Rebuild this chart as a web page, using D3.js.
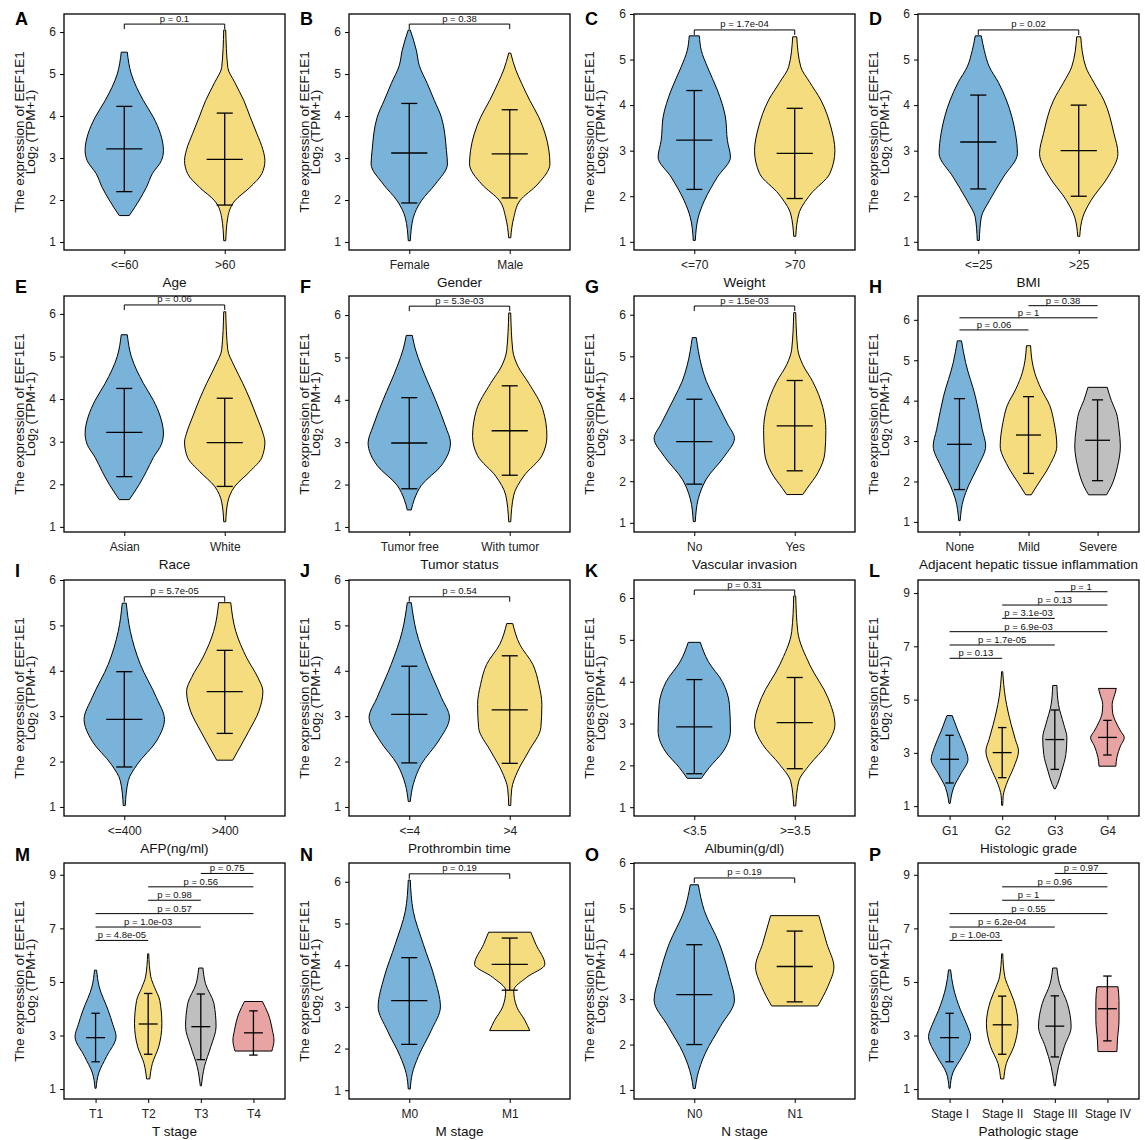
<!DOCTYPE html>
<html>
<head>
<meta charset="utf-8">
<script src="https://cdn.jsdelivr.net/npm/d3@7"></script>
<style>
  body { margin: 0; background: #fff; }
  text { font-family: "Liberation Sans", Arial, sans-serif; }
</style>
</head>
<body>
<svg id="chart" width="1145" height="1140"></svg>
<script>
// Data =====================================================

const panelLetters = ["A","B","C","D","E","F","G","H","I","J","K","L","M","N","O","P"];

const xTitles = ["Age","Gender","Weight","BMI","Race","Tumor status","Vascular invasion",
  "Adjacent hepatic tissue inflammation","AFP(ng/ml)","Prothrombin time","Albumin(g/dl)",
  "Histologic grade","T stage","M stage","N stage","Pathologic stage"];

const groupNames = [
  ["<=60",">60"], ["Female","Male"], ["<=70",">70"], ["<=25",">25"],
  ["Asian","White"], ["Tumor free","With tumor"], ["No","Yes"], ["None","Mild","Severe"],
  ["<=400",">400"], ["<=4",">4"], ["<3.5",">=3.5"], ["G1","G2","G3","G4"],
  ["T1","T2","T3","T4"], ["M0","M1"], ["N0","N1"], ["Stage I","Stage II","Stage III","Stage IV"]
];

// visible y range of each panel [bottom, top]
const yDomains = [[0.81,6.43],[0.81,6.43],[0.82,6.0],[0.82,6.0],
  [0.88,6.42],[0.88,6.45],[0.78,6.45],[0.75,6.59],
  [0.80,6.0],[0.80,6.0],[0.79,6.43],[0.63,9.49],
  [0.63,9.44],[0.79,6.45],[0.80,6.0],[0.63,9.44]];

const yTicksSix = [1,2,3,4,5,6];
const yTicksNine = [1,3,5,7,9];

// violin outlines: [value, half width in group units]
const profA = [
  [[1.63,0.05],[2.0,0.15],[2.3,0.22],[2.63,0.28],[2.94,0.37],[3.18,0.39],[3.58,0.36],[3.97,0.29],[4.37,0.19],[5.0,0.07],[5.52,0.03]],
  [[1.03,0.01],[1.58,0.03],[1.98,0.1],[2.3,0.25],[2.63,0.37],[2.94,0.40],[3.2,0.38],[3.58,0.32],[4.0,0.25],[4.37,0.19],[4.8,0.1],[5.16,0.03],[6.05,0.01]]
];
const profB = [
  [[1.03,0.01],[1.58,0.04],[1.98,0.12],[2.38,0.26],[2.86,0.38],[3.18,0.37],[3.97,0.32],[4.37,0.25],[4.77,0.18],[5.2,0.1],[5.57,0.07],[6.05,0.01]],
  [[1.1,0.01],[1.58,0.04],[1.98,0.1],[2.38,0.28],[2.86,0.40],[3.18,0.39],[3.97,0.29],[4.37,0.2],[4.77,0.12],[5.1,0.06],[5.5,0.01]]
];
const profC = [
  [[1.03,0.01],[1.54,0.04],[1.9,0.1],[2.42,0.23],[2.86,0.36],[3.22,0.33],[3.74,0.31],[4.33,0.23],[4.84,0.13],[5.2,0.07],[5.52,0.05]],
  [[1.12,0.01],[1.61,0.04],[2.05,0.16],[2.5,0.35],[3.0,0.40],[3.52,0.36],[4.11,0.26],[4.5,0.15],[4.84,0.06],[5.5,0.02]]
];
const profD = [
  [[1.03,0.01],[1.54,0.03],[1.9,0.11],[2.42,0.25],[2.94,0.39],[3.38,0.37],[4.11,0.28],[4.5,0.2],[4.84,0.11],[5.2,0.06],[5.52,0.03]],
  [[1.12,0.01],[1.54,0.04],[1.9,0.12],[2.42,0.29],[2.94,0.39],[3.38,0.35],[4.11,0.25],[4.5,0.15],[4.84,0.07],[5.5,0.02]]
];
const profE = [
  [[1.64,0.05],[2.0,0.15],[2.3,0.22],[2.63,0.29],[2.94,0.37],[3.2,0.39],[3.58,0.36],[3.97,0.29],[4.37,0.19],[5.0,0.07],[5.51,0.03]],
  [[1.12,0.01],[1.58,0.03],[1.95,0.1],[2.3,0.25],[2.63,0.37],[2.99,0.40],[3.2,0.38],[3.58,0.32],[4.0,0.25],[4.37,0.18],[4.8,0.09],[5.16,0.03],[6.05,0.01]]
];
const profF = [
  [[1.4,0.02],[1.65,0.05],[1.98,0.12],[2.45,0.32],[2.98,0.41],[3.38,0.36],[4.0,0.26],[4.79,0.12],[5.2,0.06],[5.52,0.03]],
  [[1.12,0.01],[1.75,0.04],[2.2,0.14],[2.68,0.32],[3.14,0.37],[3.77,0.33],[4.39,0.19],[4.8,0.08],[5.17,0.03],[6.05,0.01]]
];
const profG = [
  [[1.03,0.01],[1.58,0.04],[2.05,0.12],[2.6,0.3],[3.03,0.40],[3.38,0.33],[4.0,0.2],[4.4,0.12],[4.79,0.07],[5.45,0.02]],
  [[1.68,0.08],[1.82,0.12],[2.2,0.23],[2.68,0.30],[3.22,0.31],[3.77,0.28],[4.39,0.18],[4.8,0.08],[5.17,0.03],[6.05,0.01]]
];
const profH = [
  [[1.03,0.01],[1.57,0.06],[1.89,0.13],[2.38,0.27],[2.88,0.38],[3.29,0.33],[4.11,0.23],[4.94,0.09],[5.48,0.03]],
  [[1.67,0.04],[1.89,0.12],[2.38,0.30],[2.88,0.41],[3.46,0.37],[3.87,0.31],[4.3,0.18],[4.69,0.09],[5.0,0.05],[5.36,0.03]],
  [[1.67,0.13],[1.89,0.2],[2.38,0.29],[2.88,0.33],[3.3,0.31],[3.71,0.27],[4.0,0.2],[4.33,0.14]]
];
const profI = [
  [[1.03,0.01],[1.58,0.04],[1.94,0.13],[2.45,0.32],[2.93,0.40],[3.41,0.32],[4.14,0.16],[4.87,0.06],[5.49,0.02]],
  [[2.03,0.08],[2.23,0.13],[2.67,0.24],[3.11,0.34],[3.55,0.38],[3.85,0.33],[4.28,0.22],[4.87,0.11],[5.5,0.06]]
];
const profJ = [
  [[1.12,0.01],[1.5,0.04],[1.94,0.12],[2.45,0.29],[2.97,0.40],[3.41,0.32],[4.14,0.18],[4.87,0.07],[5.5,0.02]],
  [[1.03,0.01],[1.4,0.02],[1.79,0.08],[2.23,0.19],[2.75,0.31],[3.26,0.32],[3.7,0.29],[4.14,0.23],[4.58,0.1],[5.04,0.03]]
];
const profK = [
  [[1.69,0.07],[1.95,0.15],[2.34,0.29],[2.82,0.36],[3.45,0.35],[4.0,0.28],[4.48,0.14],[4.94,0.06]],
  [[1.03,0.01],[1.62,0.04],[2.02,0.15],[2.5,0.32],[2.98,0.40],[3.62,0.33],[4.4,0.15],[5.2,0.03],[6.05,0.01]]
];
const profL = [
  [[1.1,0.01],[1.34,0.03],[1.71,0.08],[2.2,0.21],[2.76,0.35],[3.2,0.29],[3.82,0.16],[4.4,0.05]],
  [[1.03,0.01],[1.4,0.02],[1.82,0.08],[2.46,0.22],[3.07,0.31],[3.5,0.25],[4.07,0.17],[5.07,0.06],[6.05,0.01]],
  [[1.65,0.01],[1.82,0.05],[2.32,0.13],[2.94,0.21],[3.57,0.23],[4.07,0.17],[4.81,0.07],[5.53,0.04]],
  [[2.5,0.16],[2.83,0.18],[3.27,0.25],[3.57,0.32],[3.82,0.25],[4.2,0.15],[4.5,0.1],[4.81,0.09],[5.2,0.14],[5.42,0.17]]
];
const profM = [
  [[1.03,0.01],[1.6,0.06],[2.22,0.21],[2.96,0.39],[3.4,0.33],[3.94,0.24],[4.81,0.07],[5.44,0.02]],
  [[1.38,0.03],[1.96,0.08],[2.58,0.2],[3.44,0.26],[4.31,0.22],[4.8,0.12],[5.19,0.05],[6.05,0.01]],
  [[1.12,0.01],[1.85,0.07],[2.58,0.19],[3.33,0.29],[4.19,0.25],[4.93,0.09],[5.52,0.04]],
  [[2.42,0.35],[2.83,0.39],[3.2,0.36],[3.81,0.28],[4.27,0.17]]
];
const profN = [
  [[1.03,0.01],[1.4,0.03],[1.81,0.09],[2.44,0.22],[3.0,0.31],[3.71,0.25],[4.5,0.14],[5.29,0.04],[6.04,0.01]],
  [[2.43,0.2],[2.68,0.15],[3.0,0.07],[3.39,0.04],[3.71,0.17],[4.02,0.35],[4.5,0.26],[4.79,0.21]]
];
const profO = [
  [[1.03,0.01],[1.3,0.03],[1.81,0.11],[2.4,0.26],[2.98,0.40],[3.5,0.35],[4.22,0.25],[4.95,0.1],[5.52,0.04]],
  [[2.85,0.23],[3.28,0.33],[3.71,0.39],[4.22,0.32],[4.84,0.24]]
];
const profP = [
  [[1.03,0.01],[1.6,0.06],[2.22,0.24],[2.96,0.40],[3.4,0.33],[3.94,0.21],[4.81,0.07],[5.45,0.02]],
  [[1.38,0.03],[1.96,0.08],[2.58,0.22],[3.44,0.30],[4.31,0.22],[4.8,0.12],[5.19,0.05],[6.05,0.01]],
  [[1.12,0.01],[1.85,0.07],[2.58,0.18],[3.33,0.31],[4.19,0.24],[4.93,0.09],[5.52,0.04]],
  [[2.4,0.18],[2.83,0.19],[3.57,0.22],[4.31,0.22],[4.82,0.2]]
];
const profiles = [profA,profB,profC,profD,profE,profF,profG,profH,profI,profJ,profK,profL,profM,profN,profO,profP];

// mean - sd, mean, mean + sd
const errorBars = [
  [[2.2,3.22,4.23],[1.88,2.97,4.07]],
  [[1.93,3.12,4.3],[2.05,3.1,4.15]],
  [[2.15,3.23,4.32],[1.95,2.94,3.93]],
  [[2.16,3.19,4.22],[2.0,3.0,4.0]],
  [[2.18,3.22,4.25],[1.95,2.98,4.02]],
  [[1.9,2.98,4.05],[2.22,3.27,4.33]],
  [[1.93,2.95,3.97],[2.25,3.33,4.42]],
  [[1.8,2.92,4.05],[2.2,3.15,4.1],[2.02,3.02,4.02]],
  [[1.88,2.93,3.98],[2.62,3.54,4.45]],
  [[1.97,3.04,4.1],[1.96,3.14,4.33]],
  [[1.8,2.92,4.05],[1.92,3.02,4.1]],
  [[1.87,2.76,3.66],[2.07,3.01,3.95],[2.38,3.5,4.61],[2.92,3.58,4.22]],
  [[2.02,2.92,3.83],[2.3,3.43,4.57],[2.1,3.33,4.55],[2.27,3.1,3.92]],
  [[2.1,3.15,4.18],[3.4,4.02,4.65]],
  [[2.0,3.1,4.2],[2.94,3.72,4.5]],
  [[2.02,2.92,3.83],[2.3,3.4,4.47],[2.2,3.35,4.48],[2.8,4.0,5.22]]
];

// comparisons: [group a, group b, bracket value, label]
const pTests = [
  [[0,1,6.19,"p = 0.1"]],
  [[0,1,6.19,"p = 0.38"]],
  [[0,1,5.65,"p = 1.7e-04"]],
  [[0,1,5.65,"p = 0.02"]],
  [[0,1,6.21,"p = 0.06"]],
  [[0,1,6.21,"p = 5.3e-03"]],
  [[0,1,6.21,"p = 1.5e-03"]],
  [[0,1,5.75,"p = 0.06"],[0,2,6.05,"p = 1"],[1,2,6.35,"p = 0.38"]],
  [[0,1,5.63,"p = 5.7e-05"]],
  [[0,1,5.63,"p = 0.54"]],
  [[0,1,6.19,"p = 0.31"]],
  [[0,1,6.55,"p = 0.13"],[0,2,7.05,"p = 1.7e-05"],[0,3,7.55,"p = 6.9e-03"],[1,2,8.05,"p = 3.1e-03"],[1,3,8.55,"p = 0.13"],[2,3,9.05,"p = 1"]],
  [[0,1,6.55,"p = 4.8e-05"],[0,2,7.05,"p = 1.0e-03"],[0,3,7.55,"p = 0.57"],[1,2,8.05,"p = 0.98"],[1,3,8.55,"p = 0.56"],[2,3,9.05,"p = 0.75"]],
  [[0,1,6.19,"p = 0.19"]],
  [[0,1,5.67,"p = 0.19"]],
  [[0,1,6.55,"p = 1.0e-03"],[0,2,7.05,"p = 6.2e-04"],[0,3,7.55,"p = 0.55"],[1,2,8.05,"p = 1"],[1,3,8.55,"p = 0.96"],[2,3,9.05,"p = 0.97"]]
];

const groupColors = ["#79b3da", "#f5dc7e", "#bfbfbf", "#e8a3a3"];

// Layout ===================================================

var svg = d3.select("#chart");
var colX = [64, 349, 634, 918],
    rowY = [14, 296, 580, 863],
    letterY = [25, 293, 577, 861],
    boxW = 221,
    boxH = 236;

function drawPanel(i) {
  var col = i % 4, row = Math.floor(i / 4);
  var groups = groupNames[i];
  var g = svg.append("g").attr("transform", "translate(" + colX[col] + "," + rowY[row] + ")");

  var x = d3.scalePoint().domain(groups).range([0, boxW]).padding(0.6);
  var y = d3.scaleLinear().domain(yDomains[i]).range([boxH, 0]);
  var step = x.step();

  // violins
  profiles[i].forEach(function(prof, j) {
    var cx = x(groups[j]);
    var area = d3.area()
      .curve(d3.curveMonotoneY)
      .y(function(d) { return y(d[0]); })
      .x0(function(d) { return cx - d[1] * step; })
      .x1(function(d) { return cx + d[1] * step; });
    g.append("path")
      .datum(prof)
      .attr("d", area)
      .attr("fill", groupColors[j])
      .attr("stroke", "#000")
      .attr("stroke-width", 1);
  });

  // mean +/- sd
  errorBars[i].forEach(function(e, j) {
    var cx = x(groups[j]);
    var capW = 0.08 * step, meanW = 0.18 * step;
    var eb = g.append("g").attr("stroke", "#000").attr("stroke-width", 1.3);
    eb.append("line").attr("x1", cx).attr("x2", cx).attr("y1", y(e[0])).attr("y2", y(e[2]));
    eb.append("line").attr("x1", cx - capW).attr("x2", cx + capW).attr("y1", y(e[0])).attr("y2", y(e[0]));
    eb.append("line").attr("x1", cx - capW).attr("x2", cx + capW).attr("y1", y(e[2])).attr("y2", y(e[2]));
    eb.append("line").attr("x1", cx - meanW).attr("x2", cx + meanW).attr("y1", y(e[1])).attr("y2", y(e[1]));
  });

  // p values
  pTests[i].forEach(function(p) {
    var x1 = x(groups[p[0]]), x2 = x(groups[p[1]]), yy = y(p[2]);
    if (groups.length == 2) {
      g.append("path")
        .attr("d", "M" + x1 + "," + (yy + 5) + "V" + yy + "H" + x2 + "V" + (yy + 5))
        .attr("fill", "none").attr("stroke", "#000").attr("stroke-width", 1);
      g.append("text").attr("x", (x1 + x2) / 2).attr("y", yy - 2.5)
        .attr("text-anchor", "middle").attr("font-size", 9.5).attr("fill", "#111").text(p[3]);
    } else {
      g.append("line").attr("x1", x1).attr("x2", x2).attr("y1", yy).attr("y2", yy)
        .attr("stroke", "#000").attr("stroke-width", 1);
      g.append("text").attr("x", (x1 + x2) / 2).attr("y", yy - 2)
        .attr("text-anchor", "middle").attr("font-size", 9.5).attr("fill", "#111").text(p[3]);
    }
  });

  // box
  g.append("rect").attr("width", boxW).attr("height", boxH)
    .attr("fill", "none").attr("stroke", "#000").attr("stroke-width", 1.3);

  // axes
  var yAxis = g.append("g")
    .call(d3.axisLeft(y)
      .tickValues(yDomains[i][1] > 8 ? yTicksNine : yTicksSix)
      .tickFormat(d3.format("d"))
      .tickSize(4).tickPadding(4));
  var xAxis = g.append("g").attr("transform", "translate(0," + boxH + ")")
    .call(d3.axisBottom(x).tickSize(4).tickPadding(6));
  [yAxis, xAxis].forEach(function(a) {
    a.select(".domain").remove();
    a.selectAll("line").attr("stroke", "#000").attr("stroke-width", 1);
    a.selectAll("text").attr("font-size", 12).attr("fill", "#222")
      .style("font-family", "'Liberation Sans', Arial, sans-serif");
  });

  // titles
  g.append("text").attr("x", boxW / 2).attr("y", boxH + 37)
    .attr("text-anchor", "middle").attr("font-size", 13.5).attr("fill", "#111").text(xTitles[i]);

  g.append("text").attr("transform", "translate(-40," + boxH / 2 + ") rotate(-90)")
    .attr("text-anchor", "middle").attr("font-size", 13.5).attr("fill", "#111")
    .text("The expression of EEF1E1");
  var t2 = g.append("text").attr("transform", "translate(-29," + boxH / 2 + ") rotate(-90)")
    .attr("text-anchor", "middle").attr("font-size", 13.5).attr("fill", "#111");
  t2.append("tspan").text("Log");
  t2.append("tspan").attr("dy", 3).attr("font-size", 10).text("2");
  t2.append("tspan").attr("dy", -3).text(" (TPM+1)");

  svg.append("text").attr("x", colX[col] - 49).attr("y", letterY[row])
    .attr("font-size", 18).attr("font-weight", "bold").attr("fill", "#000")
    .text(panelLetters[i]);
}

// Main =====================================================
for (var i = 0; i < 16; i++) drawPanel(i);
</script>
</body>
</html>
